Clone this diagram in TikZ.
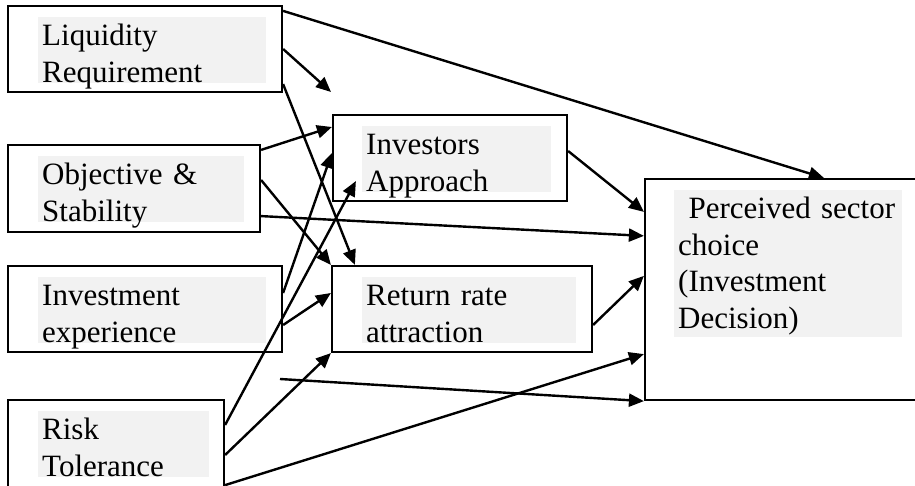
\documentclass[tikz,border=0pt]{standalone}
\usepackage{fontspec}
\setmainfont{Liberation Serif}
\usetikzlibrary{arrows.meta}
\tikzset{
  box/.style={draw, line width=2.2pt, inner sep=0pt},
  txt/.style={fill=gray!10, anchor=north west, inner xsep=4pt, inner ysep=0pt, align=left, text height=28.5pt, text depth=37.5pt, font=\fontsize{31}{36.5}\selectfont},
  arr/.style={line width=2.4pt, -{Triangle[length=15pt,width=13pt]}}
}
\begin{document}
\begin{tikzpicture}[x=1pt,y=-1pt]
\clip (0,0) rectangle (915,486);
\node[box, minimum width=274, minimum height=86] (liq) at (145,49){};
\node[txt, text width=220] (liqtxt) at (38,17){Liquidity\\Requirement};
\node[box, minimum width=252, minimum height=87] (obj) at (134,188.5){};
\node[txt, text width=198] (objtxt) at (38,156){Objective \&\\Stability};
\node[box, minimum width=274, minimum height=86] (exp) at (145,309){};
\node[txt, text width=220] (exptxt) at (38,277){Investment\\experience};
\node[box, minimum width=216, minimum height=88] (risk) at (116,444){};
\node[txt, text width=163] (risktxt) at (38,411){Risk\\Tolerance};
\node[box, minimum width=234, minimum height=86] (inv) at (450,158){};
\node[txt, text width=181] (invtxt) at (362,126){Investors\\Approach};
\node[box, minimum width=260, minimum height=86] (ret) at (462,309){};
\node[txt, text width=206] (rettxt) at (362,277){Return rate\\attraction};
\node[box, minimum width=275, minimum height=221] (dec) at (782.5,289.5){};
\node[txt, text width=220, text depth=118.5pt] (dectxt) at (674,190){\ Perceived sector\\choice\\(Investment\\Decision)};
\coordinate (liqend) at (331,92);
\coordinate (freestart) at (280,379);
\draw[arr] ([yshift=-6pt]liq.north east) -- ([xshift=180pt]dec.north west);
\draw[arr] (liq.east) -- (liqend);
\draw[arr] ([yshift=9pt]liq.south east) -- ([xshift=24pt]ret.north west);
\draw[arr] ([yshift=-6pt]obj.north east) -- ([yshift=31pt]inv.west);
\draw[arr] ([yshift=8.5pt]obj.east) -- (ret.north west);
\draw[arr] ([yshift=17pt]obj.south east) -- ([yshift=-58pt]dec.north west);
\draw[arr] ([yshift=16pt]exp.east) -- ([yshift=5pt]inv.west);
\draw[arr] ([yshift=-16pt]exp.east) -- ([yshift=16pt]ret.west);
\draw[arr] ([yshift=19pt]risk.east) -- ([xshift=24pt,yshift=21pt]inv.south west);
\draw[arr] ([yshift=-11pt]risk.east) -- (ret.south west);
\draw[arr] ([yshift=4pt]risk.south east) -- ([yshift=47pt]dec.south west);
\draw[arr] ([yshift=7pt]inv.east) -- ([yshift=-34pt]dec.north west);
\draw[arr] ([yshift=-16pt]ret.east) -- ([yshift=-98pt]dec.north west);
\draw[arr] (freestart) -- (dec.south west);

\end{tikzpicture}
\end{document}
